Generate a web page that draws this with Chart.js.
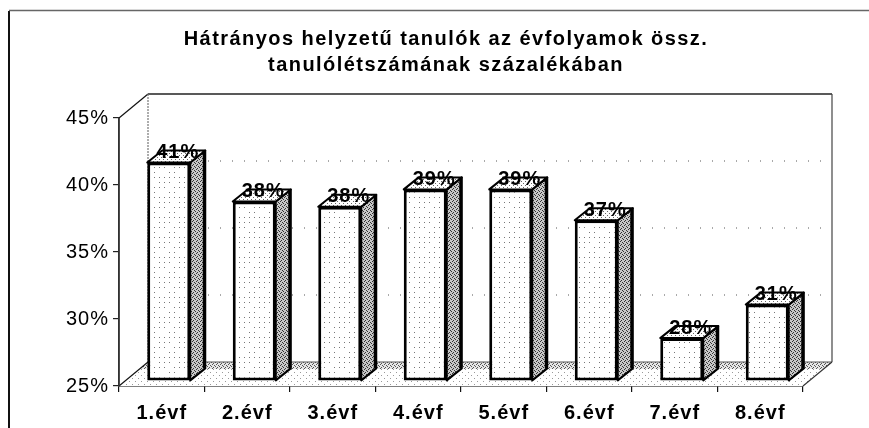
<!DOCTYPE html>
<html><head><meta charset="utf-8">
<style>html,body{margin:0;padding:0;background:#fff}canvas{display:block}</style>
<script src="https://cdn.jsdelivr.net/npm/chart.js@4"></script></head>
<body><canvas id="c" width="869" height="428"></canvas>
<script>
const categories = ['1.évf','2.évf','3.évf','4.évf','5.évf','6.évf','7.évf','8.évf'];
const shares = [41.3,38.4,38.0,39.3,39.3,37.0,28.2,30.7];
const titleLines = ['Hátrányos helyzetű tanulók az évfolyamok össz.','tanulólétszámának százalékában'];
const yRange = [25,45];
const yStep = 5;

const FONT = '"Liberation Sans", Arial, sans-serif';
function mkPattern(size, paint){
  const c = document.createElement('canvas'); c.width = c.height = size;
  paint(c.getContext('2d')); return c.getContext('2d').createPattern(c,'repeat');
}
const dots = mkPattern(20, g=>{
  g.fillStyle='#fff'; g.fillRect(0,0,20,20); g.fillStyle='#777';
  [[2,2],[7,2],[12,2],[17,2],[2,7],[12,7],[7,12],[12,12],[17,12],[2,17],[7,17],[17,7]].forEach(p=>g.fillRect(p[0],p[1],1,1));
});
const dither = mkPattern(4, g=>{
  g.fillStyle='#c8c8c8'; g.fillRect(0,0,4,4); g.fillStyle='#333';
  [[0,0],[2,1],[1,2],[3,3]].forEach(p=>g.fillRect(p[0],p[1],1,1));
});
const sparse = mkPattern(4, g=>{
  g.fillStyle='#fff'; g.fillRect(0,0,4,4); g.fillStyle='#666';
  [[0,0],[2,2]].forEach(p=>g.fillRect(p[0],p[1],1,1));
});
const floorDense = mkPattern(4, g=>{
  g.fillStyle='#e6e6e6'; g.fillRect(0,0,4,4); g.fillStyle='#555';
  [[0,0],[2,1],[1,3],[3,2]].forEach(p=>g.fillRect(p[0],p[1],1,1));
});
const floorSparse = mkPattern(6, g=>{
  g.fillStyle='#fff'; g.fillRect(0,0,6,6); g.fillStyle='#999';
  [[0,0],[3,3]].forEach(p=>g.fillRect(p[0],p[1],1,1));
});

const DX=29, DY=-24, BARX=7, BARY=-5, SIDEX=15, SIDEY=-12;
function poly(ctx,pts,fill,stroke,lw){
  ctx.beginPath(); pts.forEach((p,i)=>i?ctx.lineTo(p[0],p[1]):ctx.moveTo(p[0],p[1])); ctx.closePath();
  if(fill){ctx.fillStyle=fill;ctx.fill();}
  if(stroke){ctx.strokeStyle=stroke;ctx.lineWidth=lw;ctx.lineJoin='round';ctx.stroke();}
}
function line(ctx,a,b,col,lw,dash){
  ctx.beginPath();ctx.setLineDash(dash||[]);ctx.moveTo(a[0],a[1]);ctx.lineTo(b[0],b[1]);
  ctx.strokeStyle=col;ctx.lineWidth=lw;ctx.stroke();ctx.setLineDash([]);
}
const look3d = {
  id:'look3d',
  afterLayout(chart){
    const t=chart.titleBlock; t.left=0; t.right=892;
    if(!t._wrapped){
      const orig=t.draw.bind(t);
      t.draw=function(){ const c=chart.ctx; c.save(); c.letterSpacing='1.45px'; orig(); c.restore(); };
      t._wrapped=true;
    }
  },
  beforeDraw(chart){ chart.ctx.letterSpacing='1px'; },
  beforeDatasetsDraw(chart){
    const ctx=chart.ctx,a=chart.chartArea,ys=chart.scales.y;
    const bottom=a.bottom,top=a.top,l=a.left,r=a.right;
    ctx.save();
    line(ctx,[9,11],[9,428],'#111',2);
    line(ctx,[9,10.5],[869,10.5],'#666',1.5);
    poly(ctx,[[l,bottom],[l+DX,bottom+DY],[r+DX,bottom+DY],[r,bottom]],floorSparse);
    poly(ctx,[[l+DX-6,bottom+DY+5],[l+DX,bottom+DY],[r+DX,bottom+DY],[r+DX-8,bottom+DY+7],[l+DX-8,bottom+DY+7]],floorDense);
    ys.ticks.forEach(t=>{
      const y=ys.getPixelForValue(t.value)+DY;
      if(t.value>yRange[0] && t.value<yRange[1]) line(ctx,[l+DX,y],[r+DX,y],'#555',1,[1,11]);
    });
    line(ctx,[l,top],[l+DX,top+DY],'#111',1.2);
    line(ctx,[l+DX,top+DY],[r+DX,top+DY],'#222',1.4);
    line(ctx,[l+DX,top+DY],[l+DX,bottom+DY],'#777',1.2,[2,1]);
    line(ctx,[r+DX,top+DY],[r+DX,bottom+DY],'#444',1.2);
    line(ctx,[l+DX,bottom+DY],[r+DX,bottom+DY],'#555',1);
    line(ctx,[l,bottom],[l+DX,bottom+DY],'#111',1.1);
    line(ctx,[r,bottom],[r+DX,bottom+DY],'#333',1.1);
    line(ctx,[l,top],[l,bottom],'#333',1.5);
    ctx.translate(BARX,BARY);
    chart.getDatasetMeta(0).data.forEach(b=>{
      const hw=b.width/2, L=b.x-hw, R=b.x+hw, T=b.y, B=b.base;
      poly(ctx,[[R,T],[R+SIDEX,T+SIDEY],[R+SIDEX,B+SIDEY],[R,B]],dither,'#000',2);
      line(ctx,[R+SIDEX-1,T+SIDEY],[R+SIDEX-1,B+SIDEY],'#000',3);
      poly(ctx,[[L,T],[L+SIDEX,T+SIDEY],[R+SIDEX,T+SIDEY],[R,T]],sparse,'#000',2);
    });
    ctx.restore();
    ctx.save(); ctx.translate(BARX,BARY);
  },
  afterDatasetsDraw(chart){
    const ctx=chart.ctx;
    ctx.restore();
    ctx.save();
    ctx.font='bold 20px '+FONT; ctx.fillStyle='#000'; ctx.textAlign='center'; ctx.textBaseline='middle';
    chart.getDatasetMeta(0).data.forEach((b,i)=>{
      ctx.fillText(Math.round(shares[i])+'%', b.x+BARX+9, b.y+BARY-10);
    });
    ctx.restore();
  }
};
Chart.defaults.font.family=FONT;
new Chart(document.getElementById('c'),{
  type:'bar',
  data:{labels:categories,datasets:[{data:shares,backgroundColor:dots,borderColor:'#000',borderWidth:3,borderSkipped:false,
    barPercentage:0.503,categoryPercentage:1,base:yRange[0]}]},
  options:{
    responsive:false,animation:false,
    layout:{padding:{left:0,right:66,top:0,bottom:0}},
    plugins:{legend:{display:false},tooltip:{enabled:false},
      title:{display:true,text:titleLines,color:'#000',
        font:{size:20,weight:'bold',lineHeight:26/20},padding:{top:26,bottom:40}}},
    scales:{
      x:{afterFit(s){s.height=42;},
        grid:{offset:true,drawOnChartArea:false,color:'#111',tickLength:6,tickColor:'#111',lineWidth:1.2},
        border:{color:'#000',width:1.5},
        ticks:{color:'#000',font:{size:20,weight:'bold'},padding:9,maxRotation:0}},
      y:{min:yRange[0],max:yRange[1],afterFit(s){s.width=119;},
        grid:{drawOnChartArea:false,tickLength:6,tickColor:'#222',lineWidth:1.2},
        border:{color:'#333',width:1.5},
        ticks:{stepSize:yStep,color:'#000',font:{size:20},padding:4,callback:v=>v+'%'}}
    }
  },
  plugins:[look3d]
});
</script></body></html>
